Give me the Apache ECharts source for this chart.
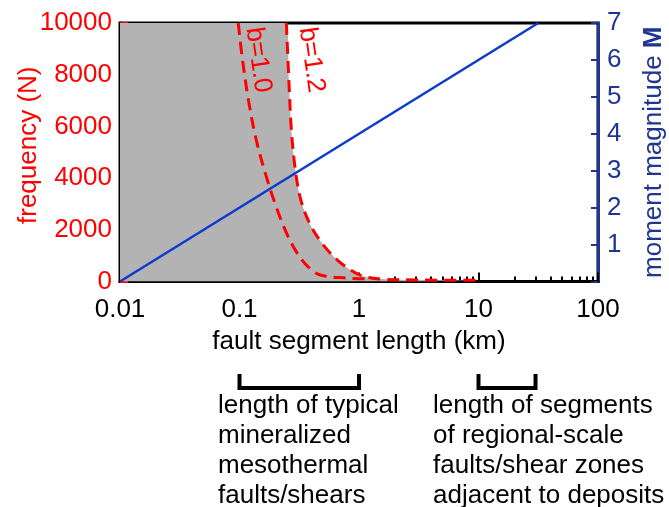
<!DOCTYPE html>
<html>
<head>
<meta charset="utf-8">
<script src="https://cdn.jsdelivr.net/npm/echarts@6/dist/echarts.min.js"></script>
<style>
html,body{margin:0;padding:0;background:#fff;}
#c{width:669px;height:507px;}
</style>
</head>
<body>
<div id="c"></div>
<script>
// ---- data ----
var lengthB10 = [0.0976, 0.1055, 0.1184, 0.1382, 0.1709, 0.2073, 0.2515, 0.3110, 0.3845, 0.4755, 0.7705, 1.2485];
var freqB10   = [10000, 8650, 7060, 5470, 3930, 2770, 1800, 1025, 520, 250, 135, 97];
var lengthB12 = [0.2466, 0.2588, 0.2716, 0.2935, 0.3263, 0.3920, 0.5038, 0.6603, 0.8486, 1.07, 1.515, 3.28, 9.86];
var freqB12   = [10000, 7800, 5860, 4310, 3150, 2190, 1410, 830, 445, 213, 97, 58, 46];
var magLength = [0.01, 31.62];
var magValue  = [0, 7];
var xTickLabels = ['0.01', '0.1', '1', '10', '100'];
var xMinorTicks = [];
[0.01, 0.1, 1, 10].forEach(function (d) { for (var k = 2; k <= 9; k++) xMinorTicks.push(+(d * k).toPrecision(3)); });
var brackets = [[0.1, 1], [10, 30]];
var noteLeft = ['length of typical', 'mineralized', 'mesothermal', 'faults/shears'];
var noteRight = ['length of segments', 'of regional-scale', 'faults/shear zones', 'adjacent to deposits'];

var FONT = 'Liberation Sans, Arial, sans-serif';
var FS = 26;
var RED = '#ff0000';
var NAVY = '#1f3592';
var BLUE = '#0b3bcf';

function pairs(xs, ys) { return xs.map(function (x, i) { return [x, ys[i]]; }); }
var b10 = pairs(lengthB10, freqB10);
var b12 = pairs(lengthB12, freqB12);
var fill = [[0.01, 10000]].concat(b12);

var chart = echarts.init(document.getElementById('c'), null, {renderer: 'canvas'});
var option = {
  animation: false,
  backgroundColor: '#fff',
  textStyle: {fontFamily: FONT},
  grid: {left: 120, top: 23, width: 478, height: 258.5, show: true, borderColor: '#000', borderWidth: 3,
    backgroundColor: 'transparent', containLabel: false, outerBoundsMode: 'none'},
  xAxis: [{
    type: 'log', logBase: 10, min: 0.01, max: 100,
    axisLine: {show: true, lineStyle: {color: '#000', width: 3}},
    axisTick: {show: true, inside: true, length: 9, lineStyle: {color: '#000', width: 2}},
    axisLabel: {color: '#000', fontSize: FS, fontFamily: FONT, margin: 15,
      formatter: function (v) { var i = Math.round(Math.log10(v)) + 2; return xTickLabels[i] || ''; }},
    splitLine: {show: false},
    name: 'fault segment length (km)', nameLocation: 'middle', nameGap: 47, nameMoveOverlap: false,
    nameTextStyle: {color: '#000', fontSize: FS, fontFamily: FONT}
  }, {
    type: 'log', logBase: 10, min: 0.01, max: 100, position: 'bottom',
    axisLine: {show: false},
    axisTick: {show: true, inside: true, length: 5, customValues: xMinorTicks, lineStyle: {color: '#000', width: 2}},
    axisLabel: {show: false},
    splitLine: {show: false}
  }],
  yAxis: [{
    type: 'value', min: 0, max: 10000, interval: 2000, position: 'left',
    axisLine: {show: true, lineStyle: {color: '#000', width: 3}},
    axisTick: {show: true, inside: true, length: 8, lineStyle: {color: RED, width: 2}},
    minorTick: {show: true, splitNumber: 2, length: 6, lineStyle: {color: RED, width: 2}},
    axisLabel: {color: RED, fontSize: FS, fontFamily: FONT, margin: 8,
      formatter: function (v) { return String(v); }},
    splitLine: {show: false},
    name: 'frequency (N)', nameLocation: 'middle', nameGap: 78, nameRotate: 90, nameMoveOverlap: false,
    nameTextStyle: {color: RED, fontSize: FS, fontFamily: FONT, padding: [0, 0, 0, 14]}
  }, {
    type: 'value', min: 0, max: 7, interval: 1, position: 'right',
    axisLine: {show: true, lineStyle: {color: NAVY, width: 3}},
    axisTick: {show: true, inside: true, length: 7, lineStyle: {color: NAVY, width: 2}},
    axisLabel: {color: NAVY, fontSize: FS, fontFamily: FONT, margin: 9,
      formatter: function (v) { return v === 0 ? '' : String(v); }},
    splitLine: {show: false},
    name: '{a|moment magnitude }{b|M}', nameLocation: 'middle', nameGap: 43, nameRotate: 90, nameMoveOverlap: false,
    nameTextStyle: {color: NAVY, fontSize: FS, fontFamily: FONT,
      rich: {a: {color: NAVY, fontSize: FS, fontFamily: FONT}, b: {color: NAVY, fontSize: FS, fontWeight: 'bold', fontFamily: FONT}}}
  }],
  series: [{
    name: 'fill', type: 'line', xAxisIndex: 0, yAxisIndex: 0, data: fill,
    showSymbol: false, smooth: 0.35,
    lineStyle: {width: 0, opacity: 0},
    areaStyle: {color: '#b3b3b3', opacity: 1}, z: 1, silent: true
  }, {
    name: 'b=1.2', type: 'line', xAxisIndex: 0, yAxisIndex: 0, data: b12,
    showSymbol: false, smooth: 0.35,
    lineStyle: {color: RED, width: 3, type: [12, 7]}, z: 3
  }, {
    name: 'b=1.0', type: 'line', xAxisIndex: 0, yAxisIndex: 0, data: b10,
    showSymbol: false, smooth: 0.35,
    lineStyle: {color: RED, width: 3, type: [12, 7]}, z: 3
  }, {
    name: 'M', type: 'line', xAxisIndex: 0, yAxisIndex: 1, data: pairs(magLength, magValue),
    showSymbol: false, lineStyle: {color: BLUE, width: 2.5}, z: 4
  }]
};
chart.setOption(option);

// annotations positioned from data coordinates
function px(x, y) { return chart.convertToPixel({xAxisIndex: 0, yAxisIndex: 0}, [x, y]); }
var g = [];
var p10 = px(0.1435, 8570), p12 = px(0.40, 8570);
g.push({type: 'text', x: p10[0], y: p10[1], rotation: -1.43, z: 10,
  style: {text: 'b=1.0', fill: RED, font: FS + 'px ' + FONT, textAlign: 'center', textVerticalAlign: 'middle'}});
g.push({type: 'text', x: p12[0], y: p12[1], rotation: -1.43, z: 10,
  style: {text: 'b=1.2', fill: RED, font: FS + 'px ' + FONT, textAlign: 'center', textVerticalAlign: 'middle'}});
brackets.forEach(function (b) {
  var xa = px(b[0], 0)[0], xb = px(b[1], 0)[0];
  g.push({type: 'polyline', shape: {points: [[xa, 374], [xa, 388], [xb, 388], [xb, 374]]},
    style: {stroke: '#000', lineWidth: 4, fill: null, lineJoin: 'miter'}});
});
g.push({type: 'text', x: 218, y: 391, style: {text: noteLeft.join('\n'), fill: '#000', font: FS + 'px ' + FONT, lineHeight: 30}});
g.push({type: 'text', x: 433, y: 391, style: {text: noteRight.join('\n'), fill: '#000', font: FS + 'px ' + FONT, lineHeight: 30}});
chart.setOption({graphic: g});
</script>
</body>
</html>
